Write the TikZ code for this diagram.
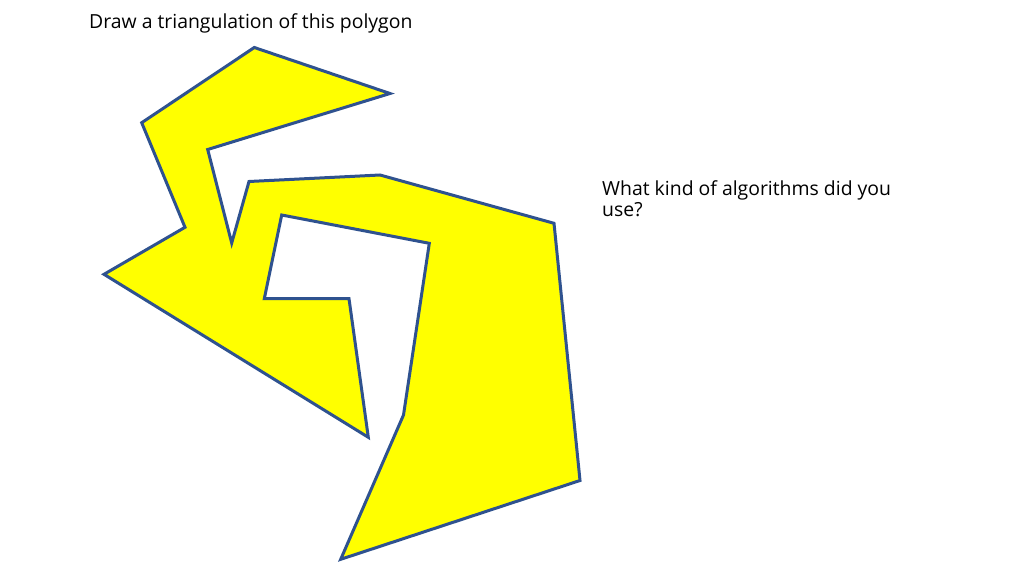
\documentclass[tikz,border=0pt]{standalone}
\usepackage{fontspec}
\setmainfont{Open Sans}
\definecolor{edgeblue}{HTML}{2F528F}
\definecolor{polyfill}{HTML}{FFFF00}
\begin{document}
\begin{tikzpicture}[x=1pt,y=-1pt,
  polyline/.style={draw=edgeblue,fill=polyfill,line width=3pt,line join=miter},
  label/.style={font=\fontsize{19.4}{21.7}\selectfont,inner sep=0pt,anchor=base west}]
\useasboundingbox (0,0) rectangle (1024,575);
\coordinate (p1) at (254.3,47.5);
\coordinate (p2) at (390,93.5);
\coordinate (p3) at (207.7,149.5);
\coordinate (p4) at (231.7,243);
\coordinate (p5) at (249,181.5);
\coordinate (p6) at (380,175);
\coordinate (p7) at (554,223.3);
\coordinate (p8) at (580,480.5);
\coordinate (p9) at (340.7,559.3);
\coordinate (p10) at (403.5,415);
\coordinate (p11) at (429.3,243.3);
\coordinate (p12) at (281.7,215);
\coordinate (p13) at (264.3,298.7);
\coordinate (p14) at (349,298.7);
\coordinate (p15) at (368.3,437.3);
\coordinate (p16) at (104,274.3);
\coordinate (p17) at (185,227.3);
\coordinate (p18) at (141.7,122.7);
\draw[polyline] (p1) -- (p2) -- (p3) -- (p4) -- (p5) -- (p6) -- (p7) -- (p8) -- (p9) -- (p10) -- (p11) -- (p12) -- (p13) -- (p14) -- (p15) -- (p16) -- (p17) -- (p18) -- cycle;
\node[label] (title) at (89,29) {Draw a triangulation of this polygon};
\node[label,align=left] (question) at (602,216.7) {What kind of algorithms did you\\use?};
\end{tikzpicture}
\end{document}
